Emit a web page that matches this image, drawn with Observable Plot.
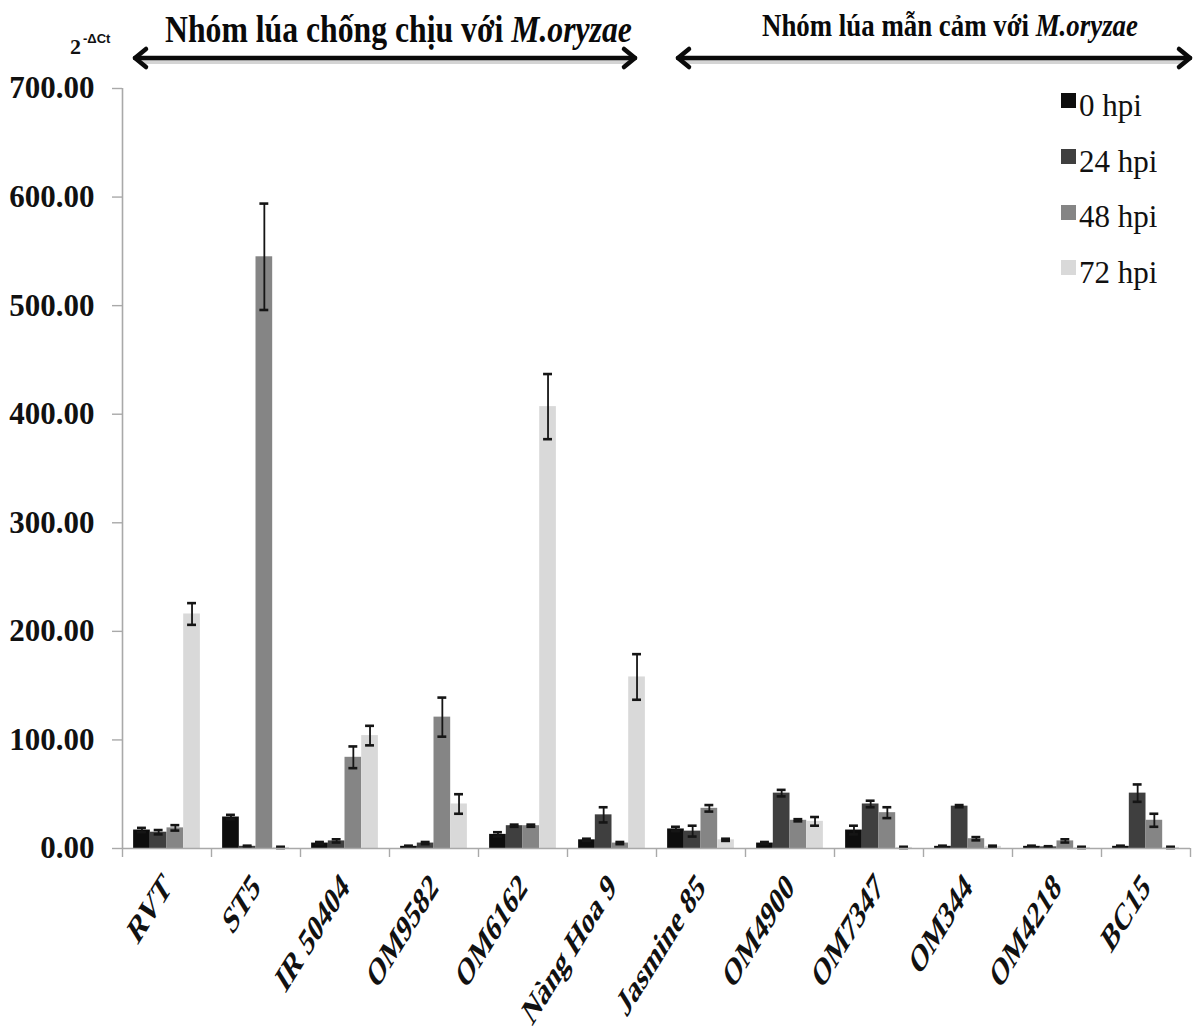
<!DOCTYPE html>
<html>
<head>
<meta charset="utf-8">
<script src="https://cdn.jsdelivr.net/npm/d3@7"></script>
<script src="https://cdn.jsdelivr.net/npm/@observablehq/plot@0.6"></script>
<style>
  body { margin: 0; background: #fff; }
  #wrap { position: relative; width: 1195px; height: 1032px; overflow: hidden; background: #fff; }
  #wrap > svg { position: absolute; left: 0; top: 0; }
  #legend { position: absolute; left: 1061px; top: 78px; }
  #legend .lg-swatches { font-family: "Liberation Serif", "Times New Roman", serif !important; font-size: 31px !important; color: #111; margin: 0 !important; }
  #legend .lg-swatch { height: 55.7px; display: flex; align-items: center; padding: 0 !important; }
  #legend .lg-swatch svg { margin-right: 3px !important; position: relative; top: -5px; }
  #legend .lg-label { max-width: none !important; overflow: visible !important; }
</style>
</head>
<body>
<div id="wrap"><div id="legend"></div></div>
<script>
// Rice cultivars, resistant group first, then susceptible group
const cultivars = ["RVT", "ST5", "IR 50404", "OM9582", "OM6162", "Nàng Hoa 9",
                   "Jasmine 85", "OM4900", "OM7347", "OM344", "OM4218", "BC15"];
const timepoints = ["0 hpi", "24 hpi", "48 hpi", "72 hpi"];
const shades = ["#0d0d0d", "#3f3f3f", "#858585", "#d9d9d9"];

// Relative expression (2^-ΔCt) per cultivar, one array per time point
const hpi0  = [17, 29, 5, 2, 13, 8, 18, 5, 17, 2, 2, 2];
const hpi24 = [15, 2, 7, 5, 21, 31, 16, 51, 41, 39, 1.5, 51];
const hpi48 = [19, 545, 84, 121, 21, 5, 37, 26, 33, 9, 7, 26];
const hpi72 = [216, 1, 104, 41, 407, 158, 8, 25, 1, 2, 1, 1];

// Standard errors, same layout
const err0  = [2, 2, 1, 0.6, 2, 1, 2, 1, 4, 0.6, 0.6, 0.6];
const err24 = [2, 0.6, 1.5, 1, 1, 7, 5, 3, 3, 1, 0.6, 8];
const err48 = [2.5, 49, 10, 18, 1, 1, 3, 1, 5, 1.5, 1.5, 6];
const err72 = [10, 0.6, 9, 9, 30, 21, 1, 4, 0.6, 0.6, 0.6, 0.6];

const yTicks = [0, 100, 200, 300, 400, 500, 600, 700];

const groupLabels = [
  {text: "Nhóm lúa chống chịu với ", species: "M.oryzae", from: 0, to: 6},
  {text: "Nhóm lúa mẫn cảm với ", species: "M.oryzae", from: 6, to: 12}
];

// Each cultivar occupies one unit on x; four adjacent bars sit inside it
const SLOT_PAD = 0.125, BAR_W = 0.1875, CAP = 0.05;
const values = [hpi0, hpi24, hpi48, hpi72];
const errors = [err0, err24, err48, err72];
const rows = [];
cultivars.forEach((c, i) => {
  timepoints.forEach((t, j) => {
    const x1 = i + SLOT_PAD + j * BAR_W;
    rows.push({cultivar: c, time: t, value: values[j][i], err: errors[j][i],
               x1, x2: x1 + BAR_W, xc: x1 + BAR_W / 2});
  });
});

const serif = "'Liberation Serif', 'Times New Roman', serif";
const axisGray = "#a9a9a9";

const chart = Plot.plot({
  width: 1195,
  height: 1032,
  marginTop: 88,
  marginLeft: 122,
  marginRight: 5,
  marginBottom: 184,
  style: {fontFamily: serif, background: "transparent", overflow: "visible", color: "#111"},
  x: {domain: [0, 12]},
  y: {domain: [0, 700]},
  color: {domain: timepoints, range: shades},
  marks: [
    Plot.rect(rows, {x1: "x1", x2: "x2", y1: 0, y2: "value", fill: "time"}),
    Plot.ruleX(rows, {x: "xc", y1: d => d.value - d.err, y2: d => d.value + d.err, stroke: "#151515", strokeWidth: 1.8}),
    Plot.ruleY(rows, {x1: d => d.xc - CAP, x2: d => d.xc + CAP, y: d => d.value + d.err, stroke: "#151515", strokeWidth: 2.6}),
    Plot.ruleY(rows, {x1: d => d.xc - CAP, x2: d => d.xc + CAP, y: d => Math.max(0, d.value - d.err), stroke: "#151515", strokeWidth: 2.6}),
    Plot.ruleX([0], {stroke: axisGray, strokeWidth: 1.6}),
    Plot.ruleY([0], {stroke: axisGray, strokeWidth: 1.6}),
    Plot.axisY({ticks: yTicks, tickFormat: d3.format(".2f"), tickSize: 10, tickPadding: 18,
                stroke: axisGray, strokeWidth: 1.4, fill: "#111", fontSize: 31, fontWeight: "bold", label: null}),
    Plot.axisX({ticks: d3.range(13), tickSize: 9, tickFormat: () => "", stroke: axisGray, strokeWidth: 1.4, label: null}),
    Plot.axisX({ticks: cultivars.map((c, i) => i + 0.5), tickFormat: v => cultivars[Math.floor(v)],
                tickSize: 0, tickPadding: 32, tickRotate: -45, fontSize: 38.5, fontWeight: "bold",
                fill: "#111", label: null})
  ]
});

const wrap = document.getElementById("wrap");
wrap.insertBefore(chart, wrap.firstChild);

const svg = d3.select(chart);
const xs = chart.scale("x");

// Cultivar names are drawn slanted and narrowed
svg.selectAll('g[aria-label="x-axis tick label"] text').each(function () {
  const t = this.getAttribute("transform");
  if (t && t.includes("rotate")) this.setAttribute("transform", t.replace("rotate", "scale(0.62,1) rotate"));
});

// Group headers with double-headed arrows
const header = svg.append("g").attr("class", "group-headers");
const arrowY = 58;
const insets = [[13, 21], [22, 0]];
const textSpec = [
  {left: 165, baseline: 42, size: 37, width: 467},
  {left: 762, baseline: 36, size: 31, width: 376}
];
groupLabels.forEach((g, k) => {
  const xa = xs.apply(g.from) + insets[k][0];
  const xb = xs.apply(g.to) - insets[k][1];
  // soft shadow under the shaft
  header.insert("line", ":first-child").attr("x1", xa + 4).attr("x2", xb - 4)
    .attr("y1", arrowY + 4).attr("y2", arrowY + 4).attr("stroke", "#d4d4d4").attr("stroke-width", 4);
  const ga = header.append("g").attr("stroke", "#0a0a0a").attr("stroke-width", 4.5)
    .attr("stroke-linecap", "round").attr("stroke-linejoin", "round").attr("fill", "none");
  ga.append("line").attr("x1", xa).attr("x2", xb).attr("y1", arrowY).attr("y2", arrowY);
  ga.append("path").attr("d", `M${xa + 11},${arrowY - 9} L${xa},${arrowY} L${xa + 11},${arrowY + 9}`);
  ga.append("path").attr("d", `M${xb - 11},${arrowY - 9} L${xb},${arrowY} L${xb - 11},${arrowY + 9}`);

  // header text, narrowed horizontally to its measured span
  const spec = textSpec[k];
  const txt = header.append("text")
    .attr("x", 0).attr("y", 0)
    .attr("text-anchor", "start")
    .attr("font-family", serif).attr("font-weight", "bold").attr("font-size", spec.size)
    .attr("fill", "#0a0a0a");
  txt.append("tspan").text(g.text);
  txt.append("tspan").attr("font-style", "italic").text(g.species);
  const natural = txt.node().getComputedTextLength();
  txt.attr("transform", `translate(${spec.left},${spec.baseline}) scale(${spec.width / natural},1)`);
});

// y-axis title 2^-ΔCt
const yt = svg.append("text").attr("x", 70).attr("y", 54).attr("text-anchor", "start")
  .attr("font-family", serif).attr("font-weight", "bold").attr("font-size", 22).attr("fill", "#111");
yt.append("tspan").text("2");
yt.append("tspan").attr("font-family", "'Liberation Sans', Arial, sans-serif")
  .attr("font-size", 13).attr("dy", -11).attr("dx", 2).text("-ΔCt");

// Legend
const legend = Plot.legend({
  color: {domain: timepoints, range: shades},
  legend: "swatches",
  columns: 1,
  swatchSize: 15,
  className: "lg"
});
document.getElementById("legend").appendChild(legend);
</script>
</body>
</html>
